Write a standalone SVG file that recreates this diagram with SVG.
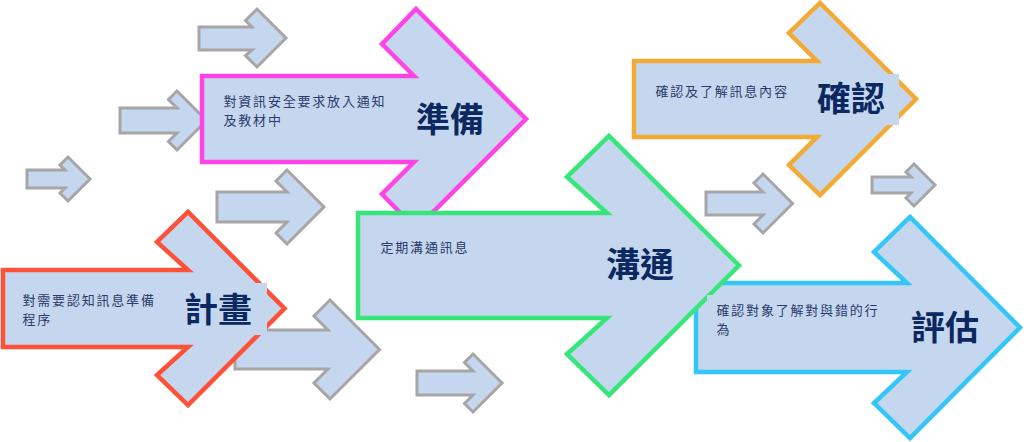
<svg xmlns="http://www.w3.org/2000/svg" width="1024" height="442" viewBox="0 0 1024 442">
<style>
.g{fill:#C5D7EE;stroke:#A6A6A6;stroke-width:3;stroke-linejoin:miter}
.big{fill:#C5D7EE;stroke-width:4.5;stroke-linejoin:miter}
.bg{fill:#C5D7EE}
.t{font-family:'Noto Sans CJK TC','Noto Sans CJK SC',sans-serif;font-size:13px;letter-spacing:1.8px;fill:#2A3B6C}
.l{font-family:'Noto Sans CJK TC','Noto Sans CJK SC',sans-serif;font-size:34px;font-weight:bold;fill:#0C2860}
</style>
<rect width="1024" height="442" fill="#FFFFFF"/>
<g id="connectors">
<path class="g" d="M199,27 L252,27 L245.5,20.5 L257,9 L286,38 L257,67 L245.5,55.5 L252,50 L199,50 Z"/>
<path class="g" d="M120,108 L177,108 L168.5,99.5 L177,91 L206.5,120.5 L177,150 L168.5,141.5 L177,133 L120,133 Z"/>
<path class="g" d="M27,170 L65,170 L60,165 L68,157 L90,179 L68,201 L60,193 L65,188 L27,188 Z"/>
<path class="g" d="M217,192 L287,192 L276,181 L287,170 L324,207 L287,244 L276,233 L287,222 L217,222 Z"/>
<path class="g" d="M235,330 L328,330 L314,316 L330,300 L379.5,349.5 L330,399 L314,383 L328,369 L235,369 Z"/>
<path class="g" d="M417,371 L473,371 L464.5,362.5 L473,354 L502,383 L473,412 L464.5,403.5 L473,395 L417,395 Z"/>
<path class="g" d="M706,192 L763,192 L754,183 L763,174 L792.5,203.5 L763,233 L754,224 L763,215 L706,215 Z"/>
<path class="g" d="M872,177 L911,177 L906,172 L914,164 L935,185 L914,206 L906,198 L911,193 L872,193 Z"/>
</g>
<g id="evaluate">
<path class="big" stroke="#33C6F6" d="M696,283 L907,283 L874,252 L910,217 L1020,327.5 L910,438 L874,403 L907,372 L696,372 Z"/>
</g>
<g id="confirm">
<path class="big" stroke="#F2AA35" d="M634,61 L817,61 L789,33 L820,3 L916,99 L820,195 L789,165 L817,137 L634,137 Z"/>
</g>
<g id="plan">
<path class="big" stroke="#FF5038" d="M3,270 L188,270 L157,242 L188,212 L284.5,308.5 L188,405 L157,375 L188,347 L3,347 Z"/>
</g>
<g id="prepare">
<path class="big" stroke="#FF44E6" d="M202,76 L414,76 L382,44 L416,9 L526,119 L416,229 L382,194 L414,162 L202,162 Z"/>
</g>
<g id="communicate">
<path class="big" stroke="#36E67A" d="M358,213 L607,213 L567,177 L609,136 L739,265.5 L609,395 L567,354 L607,318 L358,318 Z"/>
</g>
<g id="labels">
<rect class="bg" x="180" y="283" width="87" height="52"/>
<rect class="bg" x="812" y="74" width="87" height="51"/>
<rect class="bg" x="707" y="295" width="185" height="45"/>
<text class="t" x="223.5" y="105.5">對資訊安全要求放入通知<tspan x="223.5" dy="19">及教材中</tspan></text>
<text class="l" x="416" y="132">準備</text>
<text class="t" x="22.5" y="304.5">對需要認知訊息準備<tspan x="22.5" dy="19">程序</tspan></text>
<text class="l" x="184" y="322">計畫</text>
<text class="t" x="380.5" y="252">定期溝通訊息</text>
<text class="l" x="606" y="277">溝通</text>
<text class="t" x="655.5" y="96">確認及了解訊息內容</text>
<text class="l" x="817" y="111">確認</text>
<text class="t" x="716.5" y="314.5">確認對象了解對與錯的行<tspan x="716.5" dy="19">為</tspan></text>
<text class="l" x="911" y="340">評估</text>
</g>
</svg>
